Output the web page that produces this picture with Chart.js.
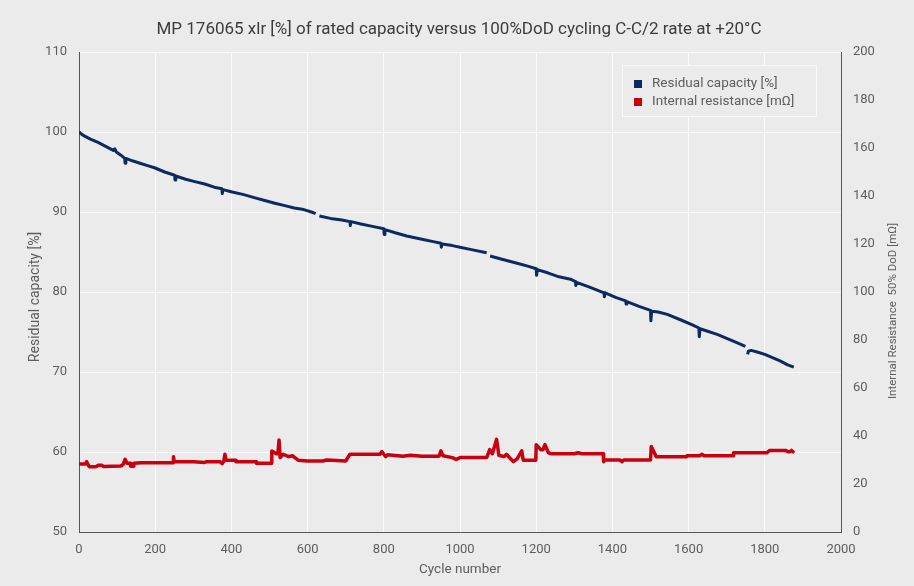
<!DOCTYPE html>
<html>
<head>
<meta charset="utf-8">
<script src="https://cdn.jsdelivr.net/npm/chart.js@4/dist/chart.umd.min.js"></script>
<style>
  html, body { margin: 0; padding: 0; background: #ebebeb; }
  #wrap { width: 914px; height: 586px; position: relative; }
</style>
</head>
<body>
<div id="wrap"><canvas id="c" width="914" height="586"></canvas></div>
<script>
// ---------- DATA ----------
const chartTitle = 'MP 176065 xlr [%] of rated capacity versus 100%DoD cycling C-C/2 rate at +20°C';
const seriesNames = ['Residual capacity [%]', 'Internal resistance [mΩ]'];
const xAxisTitle = 'Cycle number';
const leftAxisTitle = 'Residual capacity [%]';
const rightAxisTitle = 'Internal Resistance  50% DoD [mΩ]';

const capacityCycles = [0,10,30,50,70,90,94,98,110,120,121,123,140,160,180,200,225,251,252,254,280,304,330,355,375,376,378,402,430,460,490,514,540,565,590,610,621,625,631,660,690,711,712,714,740,770,800,801,803,830,860,900,930,950,951,953,980,1000,1030,1070,1074,1079,1110,1150,1180,1200,1201,1203,1230,1260,1290,1303,1304,1306,1340,1378,1379,1381,1410,1435,1436,1438,1470,1500,1501,1503,1520,1544,1580,1610,1627,1628,1630,1650,1675,1700,1725,1749,1751,1755,1757,1764,1780,1800,1820,1840,1860,1876];
const capacityValues = [100.0,99.6,99.1,98.7,98.2,97.7,97.9,97.5,97.1,96.7,96.1,96.7,96.4,96.1,95.8,95.5,95.0,94.6,94.0,94.5,94.1,93.8,93.5,93.1,92.9,92.3,92.8,92.5,92.2,91.8,91.4,91.1,90.8,90.5,90.3,90.0,89.8,null,89.5,89.2,89.0,88.8,88.3,88.8,88.5,88.2,87.9,87.2,87.8,87.4,87.0,86.6,86.3,86.1,85.6,86.0,85.8,85.6,85.3,84.9,null,84.5,84.1,83.6,83.2,82.9,82.1,82.8,82.4,81.9,81.6,81.3,80.8,81.2,80.6,79.9,79.4,79.9,79.3,78.9,78.5,78.8,78.2,77.7,76.4,77.6,77.5,77.2,76.5,75.9,75.5,74.4,75.4,75.1,74.7,74.2,73.7,73.2,null,72.2,72.6,72.7,72.5,72.2,71.8,71.4,70.9,70.6];

const resistanceCycles = [0,18,20,22,27,45,50,60,64,110,116,121,126,134,136,142,144,164,247,248,250,300,330,335,370,376,380,383,386,410,412,465,466,505,506,518,522,525,528,536,550,560,575,600,640,650,700,711,790,795,800,805,810,850,870,900,945,950,955,980,990,1000,1070,1078,1085,1096,1102,1115,1122,1130,1140,1150,1162,1166,1199,1200,1212,1218,1223,1232,1240,1300,1310,1320,1376,1377,1380,1420,1425,1430,1500,1502,1510,1515,1595,1596,1630,1635,1640,1717,1718,1805,1813,1856,1860,1866,1870,1874];
const resistanceValues = [28.3,28.3,29.3,28.6,27.2,27.2,27.8,27.8,27.3,27.5,28.2,30.3,28.6,28.6,27.4,27.4,28.6,28.9,28.9,31.4,29.3,29.3,29.0,29.3,29.3,28.5,29.5,32.4,29.9,29.9,29.3,29.3,28.6,28.6,33.8,32.6,32.6,38.3,31.0,32.4,31.4,31.8,29.9,29.6,29.6,30.0,29.6,32.4,32.4,33.5,32.4,31.4,32.2,31.6,32.0,31.6,31.6,33.8,31.8,31.0,30.2,31.0,31.0,34.3,32.6,38.6,32.0,31.4,32.4,31.0,29.3,30.5,33.8,29.9,29.9,36.4,34.3,34.3,36.4,33.0,32.6,32.6,33.0,32.6,32.6,29.3,30.0,30.0,29.3,30.0,30.0,35.6,33.0,31.4,31.4,31.8,31.8,32.4,31.8,31.8,33.0,33.0,34.0,34.0,33.4,33.4,34.0,33.4];

const xTicks = [0,200,400,600,800,1000,1200,1400,1600,1800,2000];
const leftTicks = [50,60,70,80,90,100,110];
const rightTicks = [0,20,40,60,80,100,120,140,160,180,200];

// ---------- STYLE ----------
const FONT = 'Roboto, "Liberation Sans", sans-serif';
const BLUE = '#0b2a62';
const RED = '#c8000f';
const TXT = '#5e5e5e';

const toPoints = (xs, ys) => xs.map((x, i) => ({ x: x, y: ys[i] }));

const bgPlugin = {
  id: 'bg',
  beforeDraw(chart) {
    const ctx = chart.ctx;
    ctx.save();
    ctx.fillStyle = '#ebebeb';
    ctx.fillRect(0, 0, chart.width, chart.height);
    ctx.restore();
  }
};

const textPlugin = {
  id: 'customTexts',
  afterDraw(chart) {
    const ctx = chart.ctx;
    ctx.save();
    ctx.font = '17px ' + FONT;
    ctx.fillStyle = '#3c3c3c';
    ctx.textAlign = 'center';
    ctx.textBaseline = 'middle';
    ctx.fillText(chartTitle, 459, 30);
    ctx.fillStyle = TXT;
    // left axis title
    ctx.save();
    ctx.translate(35, 297);
    ctx.rotate(-Math.PI / 2);
    ctx.font = '14px ' + FONT;
    ctx.fillText(leftAxisTitle, 0, 0);
    ctx.restore();
    // right axis title, reading bottom to top
    ctx.save();
    ctx.translate(893, 311);
    ctx.rotate(-Math.PI / 2);
    ctx.font = '11.5px ' + FONT;
    ctx.fillText(rightAxisTitle, 0, 0);
    ctx.restore();
    ctx.restore();
  }
};

const legendPlugin = {
  id: 'insideLegend',
  afterDraw(chart) {
    const ctx = chart.ctx;
    const a = chart.chartArea;
    const x0 = a.right - 219, y0 = a.top + 13, w = 195, h = 52;
    ctx.save();
    ctx.fillStyle = '#ebebeb';
    ctx.fillRect(x0, y0, w, h);
    ctx.strokeStyle = '#f8f8f8';
    ctx.lineWidth = 1;
    ctx.strokeRect(x0 + 0.5, y0 + 0.5, w - 1, h - 1);
    ctx.font = '13.5px ' + FONT;
    ctx.textBaseline = 'middle';
    ctx.textAlign = 'left';
    chart.data.datasets.forEach((ds, i) => {
      const cy = y0 + 19 + i * 18;
      ctx.fillStyle = ds.borderColor;
      ctx.fillRect(x0 + 12, cy - 4, 8, 8);
      ctx.fillStyle = TXT;
      ctx.fillText(ds.label, x0 + 30, cy);
    });
    ctx.restore();
  }
};

new Chart(document.getElementById('c'), {
  type: 'line',
  data: {
    datasets: [
      {
        label: seriesNames[0],
        data: toPoints(capacityCycles, capacityValues),
        borderColor: BLUE,
        backgroundColor: BLUE,
        borderWidth: 3,
        borderJoinStyle: 'round',
        borderCapStyle: 'butt',
        pointRadius: 0,
        tension: 0,
        spanGaps: false,
        yAxisID: 'y'
      },
      {
        label: seriesNames[1],
        data: toPoints(resistanceCycles, resistanceValues),
        borderColor: RED,
        backgroundColor: RED,
        borderWidth: 3.5,
        borderJoinStyle: 'round',
        borderCapStyle: 'round',
        pointRadius: 0,
        tension: 0,
        yAxisID: 'y2'
      }
    ]
  },
  options: {
    responsive: false,
    animation: false,
    devicePixelRatio: 1,
    layout: { padding: { top: 52, left: 0, right: 0, bottom: 0 } },
    plugins: {
      legend: { display: false },
      title: { display: false },
      tooltip: { enabled: false }
    },
    scales: {
      x: {
        type: 'linear',
        min: 0, max: 2000,
        afterBuildTicks(s) { s.ticks = xTicks.map(v => ({ value: v })); },
        afterFit(s) { s.height = 54; },
        grid: { color: '#fafafa', lineWidth: 1, tickLength: 0, drawTicks: false },
        border: { display: true, color: '#555', width: 1 },
        ticks: { color: TXT, font: { family: FONT, size: 13 }, padding: 10, maxRotation: 0, callback: v => String(v) },
        title: { display: true, text: xAxisTitle, color: TXT, font: { family: FONT, size: 13.5 }, padding: { top: 0, bottom: 8 } }
      },
      y: {
        position: 'left',
        min: 50, max: 110,
        afterBuildTicks(s) { s.ticks = leftTicks.map(v => ({ value: v })); },
        afterFit(s) { s.width = 79; },
        grid: { color: '#fafafa', lineWidth: 1, tickLength: 0, drawTicks: false },
        border: { display: true, color: '#555', width: 1 },
        ticks: { color: TXT, font: { family: FONT, size: 13 }, padding: 12, callback: v => String(v) },
        title: { display: false }
      },
      y2: {
        position: 'right',
        min: 0, max: 200,
        afterBuildTicks(s) { s.ticks = rightTicks.map(v => ({ value: v })); },
        afterFit(s) { s.width = 73; },
        grid: { drawOnChartArea: false, drawTicks: false, tickLength: 0 },
        border: { display: true, color: '#555', width: 1 },
        ticks: { color: TXT, font: { family: FONT, size: 13 }, padding: 12, callback: v => String(v) },
        title: { display: false }
      }
    }
  },
  plugins: [bgPlugin, textPlugin, legendPlugin]
});
</script>
</body>
</html>
